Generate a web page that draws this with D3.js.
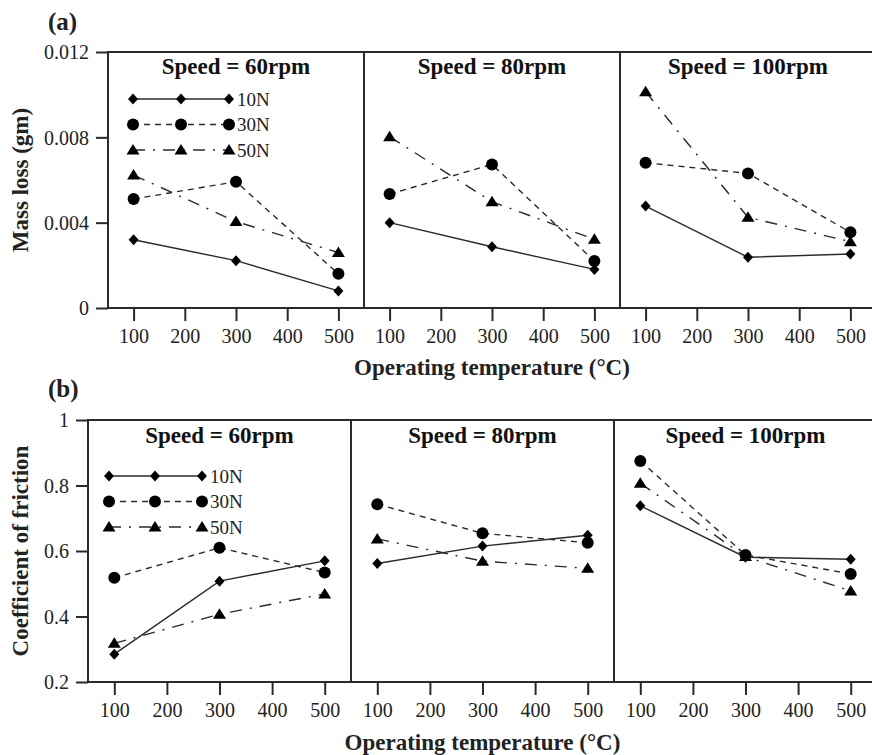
<!DOCTYPE html>
<html>
<head>
<meta charset="utf-8">
<script src="https://cdn.jsdelivr.net/npm/d3@7"></script>
<style>
    body { margin: 0; background: #fff; }
    svg { display: block; }
    svg text { font-family: 'Liberation Serif', 'Times New Roman', serif; }
</style>
</head>
<body>
<div id="chart"></div>
<script>
const temps = [100, 300, 500];
const speeds = ['60', '80', '100'];
const loads = ['10N', '30N', '50N'];

// mass loss (gm), one row per load: 10N, 30N, 50N
const mass60 = [[0.0032, 0.00222, 0.0008], [0.00511, 0.00592, 0.0016], [0.00623, 0.00405, 0.0026]];
const mass80 = [[0.0040, 0.00287, 0.00181], [0.00534, 0.00673, 0.0022], [0.00803, 0.00498, 0.00322]];
const mass100 = [[0.00478, 0.00238, 0.00253], [0.00681, 0.00631, 0.00355], [0.01014, 0.00425, 0.00311]];

// coefficient of friction
const cof60 = [[0.285, 0.508, 0.570], [0.518, 0.610, 0.534], [0.318, 0.407, 0.469]];
const cof80 = [[0.562, 0.615, 0.648], [0.743, 0.654, 0.625], [0.637, 0.569, 0.547]];
const cof100 = [[0.738, 0.581, 0.575], [0.875, 0.588, 0.530], [0.807, 0.583, 0.478]];

const massTicks = [0, 0.004, 0.008, 0.012];
const cofTicks = [0.2, 0.4, 0.6, 0.8, 1];
const tempTicks = [100, 200, 300, 400, 500];

const width = 872;
const height = 755;
const ink = '#2a2a2a';
const serif = "'Liberation Serif', 'Times New Roman', serif";
const dashes = [null, '6,5', '12,8,2,8'];
const markers = ['diamond', 'circle', 'triangle'];

const svg = d3.select('#chart')
    .append('svg')
    .attr('width', width)
    .attr('height', height);

function marker(g, type, x, y) {
    if (type === 'circle') {
        g.append('circle').attr('cx', x).attr('cy', y).attr('r', 6).attr('fill', '#000');
    } else if (type === 'diamond') {
        g.append('path')
            .attr('d', `M${x},${y - 5.5}L${x + 5},${y}L${x},${y + 5.5}L${x - 5},${y}Z`)
            .attr('fill', '#000');
    } else {
        g.append('path')
            .attr('d', `M${x},${y - 6}L${x + 6.5},${y + 4.5}L${x - 6.5},${y + 4.5}Z`)
            .attr('fill', '#000');
    }
}

function drawFigure(opt) {
    let g = svg.append('g');
    let y = d3.scaleLinear().domain(opt.yDomain).range([opt.bottom, opt.top]);

    // frame, runs past the right edge like the original
    let right = opt.left + opt.panelW * 3;
    g.append('rect')
        .attr('x', opt.left).attr('y', opt.top)
        .attr('width', right - opt.left).attr('height', opt.bottom - opt.top)
        .attr('fill', 'none').attr('stroke', ink).attr('stroke-width', 2);

    // y axis
    let yAxis = d3.axisLeft(y).tickValues(opt.yTicks).tickSize(12).tickPadding(7)
        .tickFormat(opt.yFormat);
    let ya = g.append('g').attr('transform', `translate(${opt.left},0)`).call(yAxis)
        .attr('font-family', serif).attr('font-size', 20);
    ya.select('.domain').remove();
    ya.selectAll('line').attr('stroke', ink).attr('stroke-width', 2);
    ya.selectAll('text').attr('font-family', serif).attr('fill', '#222').attr('dy', '0.34em');

    g.append('text')
        .attr('transform', `translate(${opt.yTitleX},${(opt.top + opt.bottom) / 2}) rotate(-90)`)
        .attr('text-anchor', 'middle')
        .attr('dy', '0.35em')
        .attr('font-size', 23).attr('font-weight', 'bold').attr('fill', '#222')
        .text(opt.yTitle);

    g.append('text')
        .attr('x', 48).attr('y', opt.labelY)
        .attr('font-size', 25).attr('font-weight', 'bold').attr('fill', '#222')
        .text(opt.label);

    opt.data.forEach((rows, i) => {
        let x0 = opt.left + opt.panelW * i;
        let x = d3.scaleLinear().domain([50, 550]).range([x0, x0 + opt.panelW]);
        let p = g.append('g');

        if (i > 0) {
            p.append('line')
                .attr('x1', x0).attr('x2', x0).attr('y1', opt.top).attr('y2', opt.bottom)
                .attr('stroke', ink).attr('stroke-width', 2);
        }

        let xAxis = d3.axisBottom(x).tickValues(tempTicks).tickSize(13).tickPadding(8);
        let xa = p.append('g').attr('transform', `translate(0,${opt.bottom})`).call(xAxis)
            .attr('font-family', serif).attr('font-size', 20);
        xa.select('.domain').remove();
        xa.selectAll('line').attr('stroke', ink).attr('stroke-width', 2);
        xa.selectAll('text').attr('font-family', serif).attr('fill', '#222');

        p.append('text')
            .attr('x', x0 + opt.panelW / 2).attr('y', opt.speedY)
            .attr('text-anchor', 'middle')
            .attr('font-size', 23).attr('font-weight', 'bold').attr('fill', '#111')
            .text('Speed = ' + speeds[i] + 'rpm');

        let line = d3.line()
            .x((d, k) => x(temps[k]))
            .y(d => y(d));

        rows.forEach((vals, j) => {
            p.append('path')
                .attr('d', line(vals))
                .attr('fill', 'none')
                .attr('stroke', ink)
                .attr('stroke-width', 1.4)
                .attr('stroke-dasharray', dashes[j]);
        });
        rows.forEach((vals, j) => {
            vals.forEach((v, k) => marker(p, markers[j], x(temps[k]), y(v)));
        });
    });

    // legend in first panel
    let lg = g.append('g');
    loads.forEach((name, j) => {
        let ly = opt.legY + j * 25.5;
        let lx = opt.legX;
        lg.append('line')
            .attr('x1', lx[0]).attr('x2', lx[2]).attr('y1', ly).attr('y2', ly)
            .attr('stroke', ink).attr('stroke-width', 1.4)
            .attr('stroke-dasharray', dashes[j]);
        lx.forEach(xx => marker(lg, markers[j], xx, ly));
        lg.append('text')
            .attr('x', lx[2] + 8).attr('y', ly).attr('dy', '0.35em')
            .attr('font-size', 19).attr('fill', '#222')
            .text(name);
    });

    g.append('text')
        .attr('x', opt.left + opt.panelW * 1.5).attr('y', opt.xTitleY)
        .attr('text-anchor', 'middle')
        .attr('font-size', 23).attr('font-weight', 'bold').attr('fill', '#222')
        .text('Operating temperature (°C)');
}

drawFigure({
    left: 108, top: 52, bottom: 308, panelW: 256,
    yDomain: [0, 0.012], yTicks: massTicks,
    yFormat: d => d === 0 ? '0' : d3.format('.3f')(d),
    yTitle: 'Mass loss (gm)', yTitleX: 20,
    label: '(a)', labelY: 30,
    speedY: 74, xTitleY: 375,
    legX: [133, 181, 229], legY: 99,
    data: [mass60, mass80, mass100]
});

drawFigure({
    left: 88, top: 420, bottom: 682, panelW: 263,
    yDomain: [0.2, 1], yTicks: cofTicks,
    yFormat: d => d === 1 ? '1' : d3.format('.1f')(d),
    yTitle: 'Coefficient of friction', yTitleX: 20,
    label: '(b)', labelY: 397,
    speedY: 443, xTitleY: 750,
    legX: [109, 155, 202], legY: 476,
    data: [cof60, cof80, cof100]
});
</script>
</body>
</html>
